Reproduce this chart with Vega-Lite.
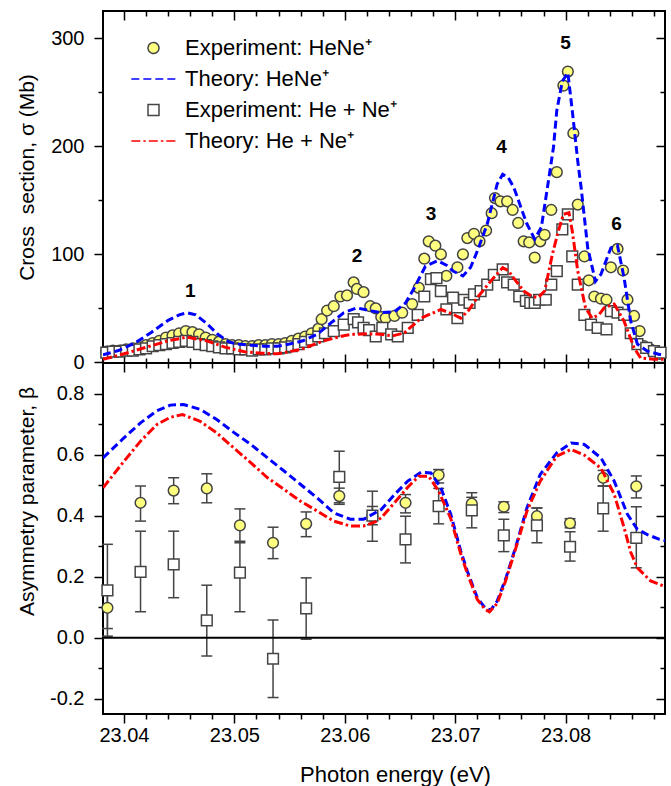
{
  "$schema": "https://vega.github.io/schema/vega-lite/v6.json",
  "padding": {"left": 15, "top": 9, "right": 5, "bottom": 5},
  "spacing": 0,
  "bounds": "flush",
  "config": {
    "font": "Liberation Sans",
    "view": {"stroke": "black", "strokeWidth": 2},
    "axis": {"domain": false, "grid": false, "tickColor": "black", "tickWidth": 1.5, "labelFont": "Liberation Sans", "labelFontSize": 20, "labelColor": "black", "titleFont": "Liberation Sans", "titleFontSize": 21, "titleFontWeight": "normal", "titleColor": "black", "labelOverlap": false, "labelFlush": false, "labelBound": false},
    "legend": {"orient": "none", "legendX": 39.5, "legendY": 26, "padding": 0, "labelFont": "Liberation Sans", "labelFontSize": 22, "labelColor": "black", "labelOffset": 20.5, "rowPadding": 9, "symbolSize": 120, "symbolStrokeWidth": 1.5, "labelLimit": 400}
  },
  "datasets": {
    "topExp": [
      {"E":23.0384,"s":10,"series":"Experiment: HeNe⁺"},{"E":23.039,"s":11,"series":"Experiment: HeNe⁺"},{"E":23.0396,"s":11,"series":"Experiment: HeNe⁺"},{"E":23.0402,"s":12,"series":"Experiment: HeNe⁺"},{"E":23.0408,"s":13,"series":"Experiment: HeNe⁺"},{"E":23.0414,"s":14,"series":"Experiment: HeNe⁺"},{"E":23.042,"s":16,"series":"Experiment: HeNe⁺"},{"E":23.0426,"s":18,"series":"Experiment: HeNe⁺"},{"E":23.0432,"s":20,"series":"Experiment: HeNe⁺"},{"E":23.0438,"s":23,"series":"Experiment: HeNe⁺"},{"E":23.0444,"s":25,"series":"Experiment: HeNe⁺"},{"E":23.045,"s":27,"series":"Experiment: HeNe⁺"},{"E":23.0456,"s":29,"series":"Experiment: HeNe⁺"},{"E":23.0462,"s":28,"series":"Experiment: HeNe⁺"},{"E":23.0468,"s":26,"series":"Experiment: HeNe⁺"},{"E":23.0474,"s":23,"series":"Experiment: HeNe⁺"},{"E":23.048,"s":21,"series":"Experiment: HeNe⁺"},{"E":23.0486,"s":19,"series":"Experiment: HeNe⁺"},{"E":23.0492,"s":17,"series":"Experiment: HeNe⁺"},{"E":23.0498,"s":16,"series":"Experiment: HeNe⁺"},{"E":23.0504,"s":16,"series":"Experiment: HeNe⁺"},{"E":23.051,"s":15,"series":"Experiment: HeNe⁺"},{"E":23.0516,"s":15,"series":"Experiment: HeNe⁺"},{"E":23.0522,"s":16,"series":"Experiment: HeNe⁺"},{"E":23.0528,"s":16,"series":"Experiment: HeNe⁺"},{"E":23.0534,"s":17,"series":"Experiment: HeNe⁺"},{"E":23.054,"s":17,"series":"Experiment: HeNe⁺"},{"E":23.0546,"s":18,"series":"Experiment: HeNe⁺"},{"E":23.0552,"s":20,"series":"Experiment: HeNe⁺"},{"E":23.0558,"s":22,"series":"Experiment: HeNe⁺"},{"E":23.0564,"s":24,"series":"Experiment: HeNe⁺"},{"E":23.057,"s":27,"series":"Experiment: HeNe⁺"},{"E":23.0576,"s":31,"series":"Experiment: HeNe⁺"},{"E":23.0579,"s":40,"series":"Experiment: HeNe⁺"},{"E":23.0584,"s":48,"series":"Experiment: HeNe⁺"},{"E":23.059,"s":52,"series":"Experiment: HeNe⁺"},{"E":23.0596,"s":61,"series":"Experiment: HeNe⁺"},{"E":23.0602,"s":62,"series":"Experiment: HeNe⁺"},{"E":23.0608,"s":74,"series":"Experiment: HeNe⁺"},{"E":23.0611,"s":68,"series":"Experiment: HeNe⁺"},{"E":23.0617,"s":65,"series":"Experiment: HeNe⁺"},{"E":23.0623,"s":52,"series":"Experiment: HeNe⁺"},{"E":23.0628,"s":50,"series":"Experiment: HeNe⁺"},{"E":23.0633,"s":42,"series":"Experiment: HeNe⁺"},{"E":23.0637,"s":41,"series":"Experiment: HeNe⁺"},{"E":23.0645,"s":43,"series":"Experiment: HeNe⁺"},{"E":23.0652,"s":46,"series":"Experiment: HeNe⁺"},{"E":23.0661,"s":54,"series":"Experiment: HeNe⁺"},{"E":23.0667,"s":69,"series":"Experiment: HeNe⁺"},{"E":23.0672,"s":96,"series":"Experiment: HeNe⁺"},{"E":23.0676,"s":112,"series":"Experiment: HeNe⁺"},{"E":23.0682,"s":108,"series":"Experiment: HeNe⁺"},{"E":23.0687,"s":100,"series":"Experiment: HeNe⁺"},{"E":23.0692,"s":80,"series":"Experiment: HeNe⁺"},{"E":23.0702,"s":88,"series":"Experiment: HeNe⁺"},{"E":23.0707,"s":100,"series":"Experiment: HeNe⁺"},{"E":23.0711,"s":115,"series":"Experiment: HeNe⁺"},{"E":23.0717,"s":119,"series":"Experiment: HeNe⁺"},{"E":23.0722,"s":112,"series":"Experiment: HeNe⁺"},{"E":23.0728,"s":122,"series":"Experiment: HeNe⁺"},{"E":23.0733,"s":138,"series":"Experiment: HeNe⁺"},{"E":23.0736,"s":152,"series":"Experiment: HeNe⁺"},{"E":23.0741,"s":149,"series":"Experiment: HeNe⁺"},{"E":23.0747,"s":149,"series":"Experiment: HeNe⁺"},{"E":23.0752,"s":141,"series":"Experiment: HeNe⁺"},{"E":23.0757,"s":129,"series":"Experiment: HeNe⁺"},{"E":23.0762,"s":112,"series":"Experiment: HeNe⁺"},{"E":23.0767,"s":111,"series":"Experiment: HeNe⁺"},{"E":23.0772,"s":97,"series":"Experiment: HeNe⁺"},{"E":23.0777,"s":112,"series":"Experiment: HeNe⁺"},{"E":23.0781,"s":118,"series":"Experiment: HeNe⁺"},{"E":23.0787,"s":141,"series":"Experiment: HeNe⁺"},{"E":23.0792,"s":176,"series":"Experiment: HeNe⁺"},{"E":23.0798,"s":256,"series":"Experiment: HeNe⁺"},{"E":23.0802,"s":269,"series":"Experiment: HeNe⁺"},{"E":23.0807,"s":212,"series":"Experiment: HeNe⁺"},{"E":23.0811,"s":146,"series":"Experiment: HeNe⁺"},{"E":23.0817,"s":98,"series":"Experiment: HeNe⁺"},{"E":23.0821,"s":76,"series":"Experiment: HeNe⁺"},{"E":23.0826,"s":61,"series":"Experiment: HeNe⁺"},{"E":23.0832,"s":59,"series":"Experiment: HeNe⁺"},{"E":23.0837,"s":58,"series":"Experiment: HeNe⁺"},{"E":23.0841,"s":88,"series":"Experiment: HeNe⁺"},{"E":23.0847,"s":105,"series":"Experiment: HeNe⁺"},{"E":23.0852,"s":85,"series":"Experiment: HeNe⁺"},{"E":23.0856,"s":58,"series":"Experiment: HeNe⁺"},{"E":23.0862,"s":43,"series":"Experiment: HeNe⁺"},{"E":23.0867,"s":29,"series":"Experiment: HeNe⁺"},{"E":23.0871,"s":15,"series":"Experiment: HeNe⁺"},{"E":23.0877,"s":12,"series":"Experiment: HeNe⁺"},{"E":23.0885,"s":8,"series":"Experiment: HeNe⁺"},
      {"E":23.0384,"s":9,"series":"Experiment: He + Ne⁺"},{"E":23.039,"s":10,"series":"Experiment: He + Ne⁺"},{"E":23.0396,"s":10,"series":"Experiment: He + Ne⁺"},{"E":23.0402,"s":11,"series":"Experiment: He + Ne⁺"},{"E":23.0408,"s":11,"series":"Experiment: He + Ne⁺"},{"E":23.0414,"s":12,"series":"Experiment: He + Ne⁺"},{"E":23.042,"s":13,"series":"Experiment: He + Ne⁺"},{"E":23.0426,"s":15,"series":"Experiment: He + Ne⁺"},{"E":23.0432,"s":16,"series":"Experiment: He + Ne⁺"},{"E":23.0438,"s":17,"series":"Experiment: He + Ne⁺"},{"E":23.0444,"s":18,"series":"Experiment: He + Ne⁺"},{"E":23.045,"s":19,"series":"Experiment: He + Ne⁺"},{"E":23.0456,"s":20,"series":"Experiment: He + Ne⁺"},{"E":23.0462,"s":19,"series":"Experiment: He + Ne⁺"},{"E":23.0468,"s":17,"series":"Experiment: He + Ne⁺"},{"E":23.0474,"s":16,"series":"Experiment: He + Ne⁺"},{"E":23.048,"s":15,"series":"Experiment: He + Ne⁺"},{"E":23.0486,"s":14,"series":"Experiment: He + Ne⁺"},{"E":23.0492,"s":13,"series":"Experiment: He + Ne⁺"},{"E":23.0498,"s":13,"series":"Experiment: He + Ne⁺"},{"E":23.0504,"s":12,"series":"Experiment: He + Ne⁺"},{"E":23.051,"s":12,"series":"Experiment: He + Ne⁺"},{"E":23.0516,"s":11,"series":"Experiment: He + Ne⁺"},{"E":23.0522,"s":12,"series":"Experiment: He + Ne⁺"},{"E":23.0528,"s":12,"series":"Experiment: He + Ne⁺"},{"E":23.0534,"s":13,"series":"Experiment: He + Ne⁺"},{"E":23.054,"s":13,"series":"Experiment: He + Ne⁺"},{"E":23.0546,"s":14,"series":"Experiment: He + Ne⁺"},{"E":23.0552,"s":15,"series":"Experiment: He + Ne⁺"},{"E":23.0558,"s":17,"series":"Experiment: He + Ne⁺"},{"E":23.0564,"s":19,"series":"Experiment: He + Ne⁺"},{"E":23.057,"s":21,"series":"Experiment: He + Ne⁺"},{"E":23.0576,"s":24,"series":"Experiment: He + Ne⁺"},{"E":23.0582,"s":27,"series":"Experiment: He + Ne⁺"},{"E":23.059,"s":29,"series":"Experiment: He + Ne⁺"},{"E":23.0599,"s":35,"series":"Experiment: He + Ne⁺"},{"E":23.0608,"s":40,"series":"Experiment: He + Ne⁺"},{"E":23.0612,"s":37,"series":"Experiment: He + Ne⁺"},{"E":23.0617,"s":32,"series":"Experiment: He + Ne⁺"},{"E":23.0622,"s":30,"series":"Experiment: He + Ne⁺"},{"E":23.0628,"s":24,"series":"Experiment: He + Ne⁺"},{"E":23.0634,"s":32,"series":"Experiment: He + Ne⁺"},{"E":23.0642,"s":26,"series":"Experiment: He + Ne⁺"},{"E":23.0648,"s":24,"series":"Experiment: He + Ne⁺"},{"E":23.0657,"s":32,"series":"Experiment: He + Ne⁺"},{"E":23.0666,"s":44,"series":"Experiment: He + Ne⁺"},{"E":23.0672,"s":61,"series":"Experiment: He + Ne⁺"},{"E":23.0678,"s":77,"series":"Experiment: He + Ne⁺"},{"E":23.0683,"s":78,"series":"Experiment: He + Ne⁺"},{"E":23.0687,"s":66,"series":"Experiment: He + Ne⁺"},{"E":23.0692,"s":49,"series":"Experiment: He + Ne⁺"},{"E":23.0698,"s":60,"series":"Experiment: He + Ne⁺"},{"E":23.0702,"s":41,"series":"Experiment: He + Ne⁺"},{"E":23.0708,"s":58,"series":"Experiment: He + Ne⁺"},{"E":23.0713,"s":55,"series":"Experiment: He + Ne⁺"},{"E":23.0717,"s":63,"series":"Experiment: He + Ne⁺"},{"E":23.0723,"s":66,"series":"Experiment: He + Ne⁺"},{"E":23.0729,"s":72,"series":"Experiment: He + Ne⁺"},{"E":23.0735,"s":81,"series":"Experiment: He + Ne⁺"},{"E":23.0743,"s":86,"series":"Experiment: He + Ne⁺"},{"E":23.0747,"s":74,"series":"Experiment: He + Ne⁺"},{"E":23.0753,"s":72,"series":"Experiment: He + Ne⁺"},{"E":23.0758,"s":61,"series":"Experiment: He + Ne⁺"},{"E":23.0764,"s":57,"series":"Experiment: He + Ne⁺"},{"E":23.0768,"s":55,"series":"Experiment: He + Ne⁺"},{"E":23.0772,"s":55,"series":"Experiment: He + Ne⁺"},{"E":23.0776,"s":58,"series":"Experiment: He + Ne⁺"},{"E":23.0782,"s":58,"series":"Experiment: He + Ne⁺"},{"E":23.0787,"s":72,"series":"Experiment: He + Ne⁺"},{"E":23.0792,"s":84.5,"series":"Experiment: He + Ne⁺"},{"E":23.0797,"s":123,"series":"Experiment: He + Ne⁺"},{"E":23.0802,"s":137,"series":"Experiment: He + Ne⁺"},{"E":23.0806,"s":98,"series":"Experiment: He + Ne⁺"},{"E":23.0811,"s":72,"series":"Experiment: He + Ne⁺"},{"E":23.0817,"s":44,"series":"Experiment: He + Ne⁺"},{"E":23.0823,"s":35,"series":"Experiment: He + Ne⁺"},{"E":23.0829,"s":32,"series":"Experiment: He + Ne⁺"},{"E":23.0837,"s":30.5,"series":"Experiment: He + Ne⁺"},{"E":23.0841,"s":47.5,"series":"Experiment: He + Ne⁺"},{"E":23.0847,"s":46,"series":"Experiment: He + Ne⁺"},{"E":23.0853,"s":44,"series":"Experiment: He + Ne⁺"},{"E":23.0859,"s":27,"series":"Experiment: He + Ne⁺"},{"E":23.0865,"s":17,"series":"Experiment: He + Ne⁺"},{"E":23.0873,"s":13.5,"series":"Experiment: He + Ne⁺"},{"E":23.088,"s":10.5,"series":"Experiment: He + Ne⁺"},{"E":23.0886,"s":9,"series":"Experiment: He + Ne⁺"}
    ],
    "topTheory": [
      {"E":23.0381,"s":7,"series":"Theory: HeNe⁺"},{"E":23.0395,"s":11,"series":"Theory: HeNe⁺"},{"E":23.041,"s":18,"series":"Theory: HeNe⁺"},{"E":23.0425,"s":28,"series":"Theory: HeNe⁺"},{"E":23.044,"s":39,"series":"Theory: HeNe⁺"},{"E":23.045,"s":44,"series":"Theory: HeNe⁺"},{"E":23.0457,"s":46,"series":"Theory: HeNe⁺"},{"E":23.0465,"s":44,"series":"Theory: HeNe⁺"},{"E":23.0475,"s":36,"series":"Theory: HeNe⁺"},{"E":23.0485,"s":26,"series":"Theory: HeNe⁺"},{"E":23.0495,"s":19,"series":"Theory: HeNe⁺"},{"E":23.0503,"s":17,"series":"Theory: HeNe⁺"},{"E":23.0515,"s":16,"series":"Theory: HeNe⁺"},{"E":23.0527,"s":15,"series":"Theory: HeNe⁺"},{"E":23.0539,"s":15,"series":"Theory: HeNe⁺"},{"E":23.055,"s":17,"series":"Theory: HeNe⁺"},{"E":23.0562,"s":20,"series":"Theory: HeNe⁺"},{"E":23.0575,"s":26,"series":"Theory: HeNe⁺"},{"E":23.0588,"s":37,"series":"Theory: HeNe⁺"},{"E":23.0599,"s":46,"series":"Theory: HeNe⁺"},{"E":23.0611,"s":50.5,"series":"Theory: HeNe⁺"},{"E":23.0622,"s":48,"series":"Theory: HeNe⁺"},{"E":23.0633,"s":46,"series":"Theory: HeNe⁺"},{"E":23.0645,"s":47,"series":"Theory: HeNe⁺"},{"E":23.0655,"s":55,"series":"Theory: HeNe⁺"},{"E":23.0663,"s":69,"series":"Theory: HeNe⁺"},{"E":23.0673,"s":89,"series":"Theory: HeNe⁺"},{"E":23.0684,"s":94,"series":"Theory: HeNe⁺"},{"E":23.0692,"s":90,"series":"Theory: HeNe⁺"},{"E":23.0698,"s":84.5,"series":"Theory: HeNe⁺"},{"E":23.0707,"s":80,"series":"Theory: HeNe⁺"},{"E":23.0714,"s":88,"series":"Theory: HeNe⁺"},{"E":23.072,"s":103,"series":"Theory: HeNe⁺"},{"E":23.0729,"s":128,"series":"Theory: HeNe⁺"},{"E":23.0738,"s":165,"series":"Theory: HeNe⁺"},{"E":23.0743,"s":174,"series":"Theory: HeNe⁺"},{"E":23.0748,"s":171,"series":"Theory: HeNe⁺"},{"E":23.0753,"s":162,"series":"Theory: HeNe⁺"},{"E":23.076,"s":142,"series":"Theory: HeNe⁺"},{"E":23.0765,"s":128,"series":"Theory: HeNe⁺"},{"E":23.0772,"s":114,"series":"Theory: HeNe⁺"},{"E":23.0778,"s":125,"series":"Theory: HeNe⁺"},{"E":23.0784,"s":165,"series":"Theory: HeNe⁺"},{"E":23.0789,"s":199,"series":"Theory: HeNe⁺"},{"E":23.0792,"s":233,"series":"Theory: HeNe⁺"},{"E":23.0797,"s":260,"series":"Theory: HeNe⁺"},{"E":23.0802,"s":268,"series":"Theory: HeNe⁺"},{"E":23.0806,"s":233,"series":"Theory: HeNe⁺"},{"E":23.0811,"s":186,"series":"Theory: HeNe⁺"},{"E":23.0814,"s":162,"series":"Theory: HeNe⁺"},{"E":23.082,"s":106,"series":"Theory: HeNe⁺"},{"E":23.0827,"s":75,"series":"Theory: HeNe⁺"},{"E":23.0832,"s":81.5,"series":"Theory: HeNe⁺"},{"E":23.0841,"s":106,"series":"Theory: HeNe⁺"},{"E":23.0847,"s":108,"series":"Theory: HeNe⁺"},{"E":23.0853,"s":78,"series":"Theory: HeNe⁺"},{"E":23.0859,"s":38,"series":"Theory: HeNe⁺"},{"E":23.0865,"s":17,"series":"Theory: HeNe⁺"},{"E":23.0874,"s":10.5,"series":"Theory: HeNe⁺"},{"E":23.0885,"s":7.4,"series":"Theory: HeNe⁺"},{"E":23.089,"s":7,"series":"Theory: HeNe⁺"},
      {"E":23.0381,"s":3,"series":"Theory: He + Ne⁺"},{"E":23.04,"s":8,"series":"Theory: He + Ne⁺"},{"E":23.042,"s":14,"series":"Theory: He + Ne⁺"},{"E":23.044,"s":20,"series":"Theory: He + Ne⁺"},{"E":23.0457,"s":23.4,"series":"Theory: He + Ne⁺"},{"E":23.0475,"s":20,"series":"Theory: He + Ne⁺"},{"E":23.0492,"s":14,"series":"Theory: He + Ne⁺"},{"E":23.0509,"s":10,"series":"Theory: He + Ne⁺"},{"E":23.0525,"s":8.5,"series":"Theory: He + Ne⁺"},{"E":23.0539,"s":8,"series":"Theory: He + Ne⁺"},{"E":23.056,"s":12,"series":"Theory: He + Ne⁺"},{"E":23.0581,"s":20,"series":"Theory: He + Ne⁺"},{"E":23.06,"s":25,"series":"Theory: He + Ne⁺"},{"E":23.0608,"s":26,"series":"Theory: He + Ne⁺"},{"E":23.062,"s":26.5,"series":"Theory: He + Ne⁺"},{"E":23.0633,"s":26,"series":"Theory: He + Ne⁺"},{"E":23.0643,"s":24.5,"series":"Theory: He + Ne⁺"},{"E":23.0654,"s":27.4,"series":"Theory: He + Ne⁺"},{"E":23.0669,"s":41,"series":"Theory: He + Ne⁺"},{"E":23.0687,"s":49,"series":"Theory: He + Ne⁺"},{"E":23.0697,"s":45,"series":"Theory: He + Ne⁺"},{"E":23.0705,"s":41,"series":"Theory: He + Ne⁺"},{"E":23.0712,"s":48,"series":"Theory: He + Ne⁺"},{"E":23.072,"s":60,"series":"Theory: He + Ne⁺"},{"E":23.0732,"s":75,"series":"Theory: He + Ne⁺"},{"E":23.0743,"s":87.6,"series":"Theory: He + Ne⁺"},{"E":23.0748,"s":85,"series":"Theory: He + Ne⁺"},{"E":23.0753,"s":78,"series":"Theory: He + Ne⁺"},{"E":23.0762,"s":66,"series":"Theory: He + Ne⁺"},{"E":23.077,"s":61,"series":"Theory: He + Ne⁺"},{"E":23.0775,"s":60,"series":"Theory: He + Ne⁺"},{"E":23.0781,"s":66,"series":"Theory: He + Ne⁺"},{"E":23.0788,"s":100,"series":"Theory: He + Ne⁺"},{"E":23.0793,"s":120,"series":"Theory: He + Ne⁺"},{"E":23.0798,"s":137,"series":"Theory: He + Ne⁺"},{"E":23.0803,"s":138.5,"series":"Theory: He + Ne⁺"},{"E":23.0806,"s":121.6,"series":"Theory: He + Ne⁺"},{"E":23.0811,"s":84.5,"series":"Theory: He + Ne⁺"},{"E":23.0818,"s":50.5,"series":"Theory: He + Ne⁺"},{"E":23.0824,"s":41,"series":"Theory: He + Ne⁺"},{"E":23.083,"s":44,"series":"Theory: He + Ne⁺"},{"E":23.0835,"s":50.5,"series":"Theory: He + Ne⁺"},{"E":23.0844,"s":54,"series":"Theory: He + Ne⁺"},{"E":23.0853,"s":38,"series":"Theory: He + Ne⁺"},{"E":23.0862,"s":13.5,"series":"Theory: He + Ne⁺"},{"E":23.0868,"s":4,"series":"Theory: He + Ne⁺"},{"E":23.088,"s":3,"series":"Theory: He + Ne⁺"},{"E":23.089,"s":3,"series":"Theory: He + Ne⁺"}
    ],
    "peaks": [
      {"E":23.046,"s":66,"label":"1"},{"E":23.0611,"s":98,"label":"2"},{"E":23.0678,"s":137,"label":"3"},{"E":23.0742,"s":199,"label":"4"},{"E":23.08,"s":295,"label":"5"},{"E":23.0846,"s":128,"label":"6"}
    ],
    "botExp": [
      {"E":23.0385,"b":0.098,"lo":0.03,"hi":0.17,"kind":"c"},{"E":23.0415,"b":0.442,"lo":0.382,"hi":0.497,"kind":"c"},{"E":23.0445,"b":0.482,"lo":0.439,"hi":0.524,"kind":"c"},{"E":23.0475,"b":0.489,"lo":0.442,"hi":0.537,"kind":"c"},{"E":23.0505,"b":0.368,"lo":0.311,"hi":0.422,"kind":"c"},{"E":23.0535,"b":0.311,"lo":0.259,"hi":0.362,"kind":"c"},{"E":23.0565,"b":0.373,"lo":0.331,"hi":0.412,"kind":"c"},{"E":23.0595,"b":0.464,"lo":0.437,"hi":0.49,"kind":"c"},{"E":23.0625,"b":0.398,"lo":0.37,"hi":0.43,"kind":"c"},{"E":23.0655,"b":0.442,"lo":0.409,"hi":0.469,"kind":"c"},{"E":23.0685,"b":0.533,"lo":0.507,"hi":0.551,"kind":"c"},{"E":23.0715,"b":0.439,"lo":0.42,"hi":0.46,"kind":"c"},{"E":23.0744,"b":0.429,"lo":0.41,"hi":0.445,"kind":"c"},{"E":23.0774,"b":0.398,"lo":0.37,"hi":0.425,"kind":"c"},{"E":23.0804,"b":0.375,"lo":0.36,"hi":0.39,"kind":"c"},{"E":23.0834,"b":0.524,"lo":0.497,"hi":0.548,"kind":"c"},{"E":23.0864,"b":0.496,"lo":0.458,"hi":0.53,"kind":"c"},
      {"E":23.0385,"b":0.155,"lo":0.005,"hi":0.306,"kind":"s"},{"E":23.0415,"b":0.216,"lo":0.085,"hi":0.349,"kind":"s"},{"E":23.0445,"b":0.24,"lo":0.131,"hi":0.349,"kind":"s"},{"E":23.0475,"b":0.057,"lo":-0.06,"hi":0.172,"kind":"s"},{"E":23.0505,"b":0.213,"lo":0.085,"hi":0.316,"kind":"s"},{"E":23.0535,"b":-0.069,"lo":-0.196,"hi":0.058,"kind":"s"},{"E":23.0565,"b":0.096,"lo":-0.005,"hi":0.196,"kind":"s"},{"E":23.0595,"b":0.527,"lo":0.442,"hi":0.611,"kind":"s"},{"E":23.0625,"b":0.4,"lo":0.316,"hi":0.48,"kind":"s"},{"E":23.0655,"b":0.322,"lo":0.245,"hi":0.398,"kind":"s"},{"E":23.0685,"b":0.431,"lo":0.373,"hi":0.489,"kind":"s"},{"E":23.0715,"b":0.417,"lo":0.36,"hi":0.475,"kind":"s"},{"E":23.0744,"b":0.335,"lo":0.282,"hi":0.388,"kind":"s"},{"E":23.0774,"b":0.368,"lo":0.311,"hi":0.425,"kind":"s"},{"E":23.0804,"b":0.298,"lo":0.251,"hi":0.347,"kind":"s"},{"E":23.0834,"b":0.424,"lo":0.349,"hi":0.497,"kind":"s"},{"E":23.0864,"b":0.327,"lo":0.229,"hi":0.429,"kind":"s"}
    ],
    "botBlue": [
      {"E":23.0381,"b":0.589},{"E":23.039,"b":0.62},{"E":23.04,"b":0.655},{"E":23.0415,"b":0.704},{"E":23.043,"b":0.744},{"E":23.0442,"b":0.762},{"E":23.0454,"b":0.764},{"E":23.0469,"b":0.748},{"E":23.0484,"b":0.715},{"E":23.05,"b":0.671},{"E":23.0515,"b":0.633},{"E":23.053,"b":0.589},{"E":23.0545,"b":0.546},{"E":23.056,"b":0.502},{"E":23.0575,"b":0.458},{"E":23.059,"b":0.409},{"E":23.0605,"b":0.388},{"E":23.0617,"b":0.388},{"E":23.0633,"b":0.42},{"E":23.0645,"b":0.469},{"E":23.0657,"b":0.513},{"E":23.0669,"b":0.542},{"E":23.0678,"b":0.54},{"E":23.0687,"b":0.491},{"E":23.0696,"b":0.404},{"E":23.0705,"b":0.284},{"E":23.0711,"b":0.218},{"E":23.072,"b":0.131},{"E":23.0727,"b":0.098},{"E":23.0732,"b":0.09},{"E":23.0738,"b":0.12},{"E":23.0746,"b":0.196},{"E":23.0755,"b":0.3},{"E":23.0765,"b":0.426},{"E":23.0777,"b":0.535},{"E":23.0792,"b":0.606},{"E":23.0805,"b":0.638},{"E":23.0817,"b":0.633},{"E":23.0832,"b":0.589},{"E":23.0844,"b":0.513},{"E":23.0856,"b":0.404},{"E":23.0865,"b":0.355},{"E":23.0874,"b":0.338},{"E":23.0885,"b":0.322},{"E":23.089,"b":0.318}
    ],
    "botRed": [
      {"E":23.0381,"b":0.491},{"E":23.04,"b":0.578},{"E":23.0415,"b":0.644},{"E":23.043,"b":0.699},{"E":23.0442,"b":0.722},{"E":23.0453,"b":0.731},{"E":23.0469,"b":0.709},{"E":23.0484,"b":0.671},{"E":23.05,"b":0.62},{"E":23.0515,"b":0.573},{"E":23.053,"b":0.524},{"E":23.0545,"b":0.486},{"E":23.056,"b":0.447},{"E":23.0575,"b":0.415},{"E":23.059,"b":0.382},{"E":23.0605,"b":0.366},{"E":23.0617,"b":0.366},{"E":23.0628,"b":0.38},{"E":23.0633,"b":0.393},{"E":23.0645,"b":0.442},{"E":23.0657,"b":0.493},{"E":23.0667,"b":0.529},{"E":23.0676,"b":0.529},{"E":23.0685,"b":0.48},{"E":23.0696,"b":0.39},{"E":23.0705,"b":0.275},{"E":23.0711,"b":0.21},{"E":23.072,"b":0.125},{"E":23.0727,"b":0.093},{"E":23.0731,"b":0.085},{"E":23.0738,"b":0.112},{"E":23.0746,"b":0.19},{"E":23.0755,"b":0.295},{"E":23.0765,"b":0.415},{"E":23.0777,"b":0.513},{"E":23.0792,"b":0.595},{"E":23.0805,"b":0.617},{"E":23.0817,"b":0.598},{"E":23.0832,"b":0.555},{"E":23.0844,"b":0.47},{"E":23.0853,"b":0.36},{"E":23.0859,"b":0.28},{"E":23.0865,"b":0.229},{"E":23.0877,"b":0.186},{"E":23.0889,"b":0.169}
    ]
  },
  "vconcat": [
    {
      "width": 562,
      "height": 352,
      "resolve": {"axis": {"x": "independent", "y": "independent"}},
      "layer": [
        {
          "data": {"name": "topExp"},
          "transform": [{"filter": "datum.series == 'Experiment: HeNe⁺'"}],
          "mark": {"type": "point", "opacity": 1, "strokeWidth": 1.5, "size": 115},
          "encoding": {
            "x": {"field": "E", "type": "quantitative", "scale": {"domain": [23.0381, 23.089], "nice": false, "zero": false},
              "axis": {"orient": "bottom", "labels": false, "title": null, "values": [23.04,23.05,23.06,23.07,23.08], "tickSize": -9}},
            "y": {"field": "s", "type": "quantitative", "scale": {"domain": [-0.5, 325], "nice": false, "zero": false},
              "axis": {"orient": "left", "values": [0,100,200,300], "labelPadding": 10, "tickSize": 9,
                "title": "Cross\u00a0 section, σ (Mb)", "titleX": -76, "titleY": 166, "titleAngle": 270, "titleAlign": "center", "titleBaseline": "middle"}},
            "shape": {"field": "series", "type": "nominal", "scale": {"domain": ["Experiment: HeNe⁺", "Theory: HeNe⁺", "Experiment: He + Ne⁺", "Theory: He + Ne⁺"], "range": ["circle", "M-4.05,0H4.05", "square", "M-4.05,0H4.05"]},
              "legend": {"title": null}},
            "fill": {"field": "series", "type": "nominal", "scale": {"domain": ["Experiment: HeNe⁺", "Theory: HeNe⁺", "Experiment: He + Ne⁺", "Theory: He + Ne⁺"], "range": ["#ffff80", "transparent", "#ffffff", "transparent"]},
              "legend": {"title": null}},
            "stroke": {"field": "series", "type": "nominal", "scale": {"domain": ["Experiment: HeNe⁺", "Theory: HeNe⁺", "Experiment: He + Ne⁺", "Theory: He + Ne⁺"], "range": ["#444444", "#0000ff", "#444444", "#ff0000"]},
              "legend": {"title": null}}
          }
        },
        {
          "data": {"name": "topExp"},
          "transform": [{"filter": "datum.series == 'Experiment: He + Ne⁺'"}],
          "mark": {"type": "point", "opacity": 1, "strokeWidth": 1.5, "size": 115},
          "encoding": {
            "x": {"field": "E", "type": "quantitative",
              "axis": {"orient": "bottom", "labels": false, "title": null, "values": [23.042,23.044,23.046,23.048,23.052,23.054,23.056,23.058,23.062,23.064,23.066,23.068,23.072,23.074,23.076,23.078,23.082,23.084,23.086,23.088], "tickSize": -5}},
            "y": {"field": "s", "type": "quantitative",
              "axis": {"orient": "left", "labels": false, "title": null, "values": [50,150,250], "tickSize": 5}},
            "shape": {"field": "series", "type": "nominal", "legend": {"title": null}},
            "fill": {"field": "series", "type": "nominal", "legend": {"title": null}},
            "stroke": {"field": "series", "type": "nominal", "legend": {"title": null}}
          }
        },
        {
          "data": {"name": "topTheory"},
          "mark": {"type": "line", "strokeWidth": 3, "clip": true},
          "encoding": {
            "x": {"field": "E", "type": "quantitative",
              "axis": {"orient": "top", "labels": false, "title": null, "values": [23.04,23.05,23.06,23.07,23.08], "tickSize": -9}},
            "y": {"field": "s", "type": "quantitative",
              "axis": {"orient": "right", "labels": false, "title": null, "values": [0,100,200,300], "tickSize": -9}},
            "stroke": {"field": "series", "type": "nominal", "legend": {"title": null}},
            "strokeDash": {"field": "series", "type": "nominal", "scale": {"domain": ["Experiment: HeNe⁺", "Theory: HeNe⁺", "Experiment: He + Ne⁺", "Theory: He + Ne⁺"], "range": [[1,0],[8,4],[1,0],[9,3,2.5,3]]},
              "legend": {"title": null}}
          }
        },
        {
          "data": {"name": "peaks"},
          "mark": {"type": "text", "fontSize": 19, "fontWeight": "bold", "font": "Liberation Sans", "baseline": "middle", "align": "center", "color": "black"},
          "encoding": {
            "x": {"field": "E", "type": "quantitative",
              "axis": {"orient": "top", "labels": false, "title": null, "values": [23.042,23.044,23.046,23.048,23.052,23.054,23.056,23.058,23.062,23.064,23.066,23.068,23.072,23.074,23.076,23.078,23.082,23.084,23.086,23.088], "tickSize": -5}},
            "y": {"field": "s", "type": "quantitative",
              "axis": {"orient": "right", "labels": false, "title": null, "values": [50,150,250], "tickSize": -5}},
            "text": {"field": "label"}
          }
        }
      ]
    },
    {
      "width": 562,
      "height": 351,
      "resolve": {"axis": {"x": "independent", "y": "independent"}},
      "layer": [
        {
          "data": {"name": "botExp"},
          "mark": {"type": "rule", "strokeWidth": 1.5, "color": "#444444"},
          "encoding": {
            "x": {"field": "E", "type": "quantitative", "scale": {"domain": [23.0381, 23.089], "nice": false, "zero": false},
              "axis": {"orient": "bottom", "values": [23.04,23.05,23.06,23.07,23.08], "format": ".2f", "labelPadding": 2, "tickSize": 9,
                "title": "Photon energy (eV)", "titleFontSize": 22, "titleX": 292, "titleY": 67, "titleAlign": "center", "titleBaseline": "alphabetic"}},
            "y": {"field": "lo", "type": "quantitative", "scale": {"domain": [-0.25, 0.9], "nice": false, "zero": false},
              "axis": {"orient": "left", "values": [-0.2,0,0.2,0.4,0.6,0.8], "format": ".1f", "labelExpr": "replace(datum.label, '−', '-')", "labelPadding": 10, "tickSize": 9,
                "title": "Asymmetry parameter, β", "titleX": -76, "titleY": 138, "titleAngle": 270, "titleAlign": "center", "titleBaseline": "middle"}},
            "y2": {"field": "hi"}
          }
        },
        {
          "data": {"name": "botExp"},
          "mark": {"type": "tick", "orient": "horizontal", "size": 11, "thickness": 1.5, "color": "#444444", "opacity": 1},
          "encoding": {
            "x": {"field": "E", "type": "quantitative",
              "axis": {"orient": "bottom", "labels": false, "title": null, "values": [23.042,23.044,23.046,23.048,23.052,23.054,23.056,23.058,23.062,23.064,23.066,23.068,23.072,23.074,23.076,23.078,23.082,23.084,23.086,23.088], "tickSize": 5}},
            "y": {"field": "lo", "type": "quantitative",
              "axis": {"orient": "left", "labels": false, "title": null, "values": [-0.1,0.1,0.3,0.5,0.7], "tickSize": 5}}
          }
        },
        {
          "data": {"name": "botExp"},
          "mark": {"type": "tick", "orient": "horizontal", "size": 11, "thickness": 1.5, "color": "#444444", "opacity": 1},
          "encoding": {
            "x": {"field": "E", "type": "quantitative",
              "axis": {"orient": "top", "labels": false, "title": null, "values": [23.04,23.05,23.06,23.07,23.08], "tickSize": -9}},
            "y": {"field": "hi", "type": "quantitative",
              "axis": {"orient": "right", "labels": false, "title": null, "values": [-0.2,0,0.2,0.4,0.6,0.8], "tickSize": -9}}
          }
        },
        {
          "data": {"values": [{"b": 0}]},
          "mark": {"type": "rule", "color": "black", "strokeWidth": 2},
          "encoding": {
            "y": {"field": "b", "type": "quantitative", "axis": null}
          }
        },
        {
          "data": {"name": "botExp"},
          "transform": [{"filter": "datum.kind == 'c'"}],
          "mark": {"type": "point", "shape": "circle", "filled": true, "fill": "#ffff80", "stroke": "#444444", "strokeWidth": 1.5, "size": 115, "opacity": 1},
          "encoding": {
            "x": {"field": "E", "type": "quantitative",
              "axis": {"orient": "top", "labels": false, "title": null, "values": [23.042,23.044,23.046,23.048,23.052,23.054,23.056,23.058,23.062,23.064,23.066,23.068,23.072,23.074,23.076,23.078,23.082,23.084,23.086,23.088], "tickSize": -5}},
            "y": {"field": "b", "type": "quantitative",
              "axis": {"orient": "right", "labels": false, "title": null, "values": [-0.1,0.1,0.3,0.5,0.7], "tickSize": -5}}
          }
        },
        {
          "data": {"name": "botExp"},
          "transform": [{"filter": "datum.kind == 's'"}],
          "mark": {"type": "point", "shape": "square", "filled": true, "fill": "#ffffff", "stroke": "#444444", "strokeWidth": 1.5, "size": 115, "opacity": 1},
          "encoding": {
            "x": {"field": "E", "type": "quantitative", "axis": null},
            "y": {"field": "b", "type": "quantitative", "axis": null}
          }
        },
        {
          "data": {"name": "botBlue"},
          "mark": {"type": "line", "stroke": "#0000ff", "strokeWidth": 3, "strokeDash": [8, 4], "clip": true},
          "encoding": {
            "x": {"field": "E", "type": "quantitative", "axis": null},
            "y": {"field": "b", "type": "quantitative", "axis": null}
          }
        },
        {
          "data": {"name": "botRed"},
          "mark": {"type": "line", "stroke": "#ff0000", "strokeWidth": 3, "strokeDash": [9, 3, 2.5, 3], "clip": true},
          "encoding": {
            "x": {"field": "E", "type": "quantitative", "axis": null},
            "y": {"field": "b", "type": "quantitative", "axis": null}
          }
        }
      ]
    }
  ]
}
